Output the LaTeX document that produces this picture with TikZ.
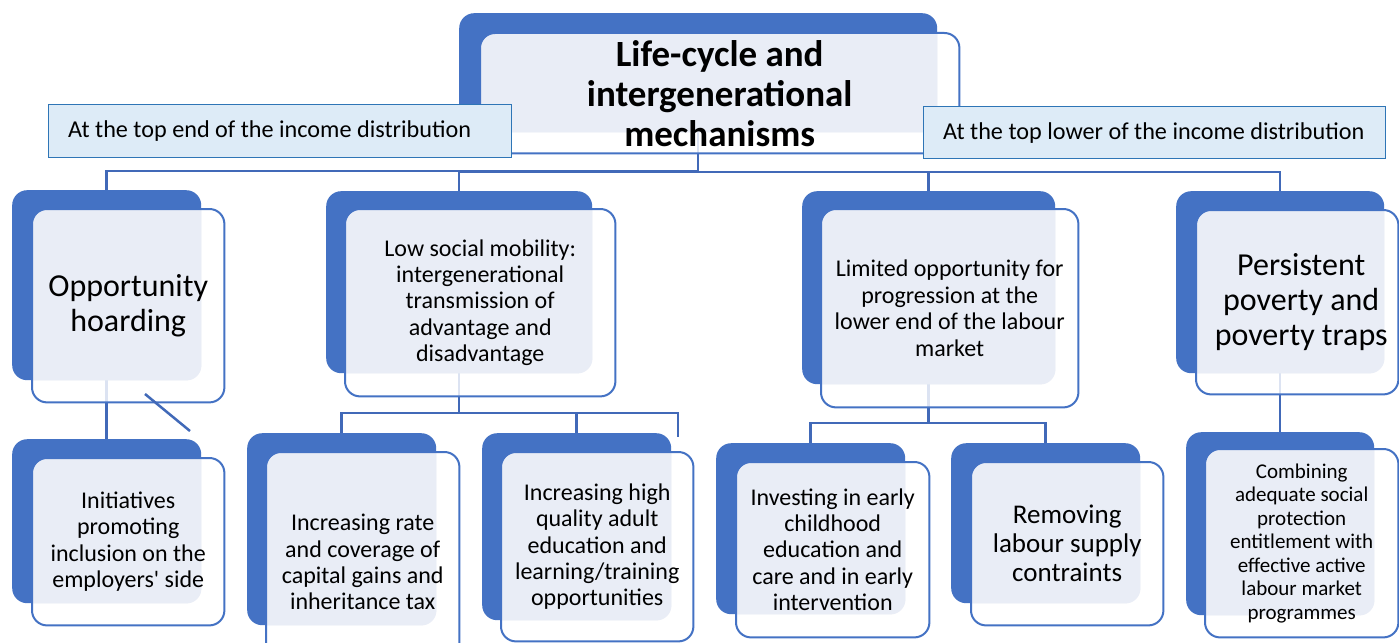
\documentclass[tikz,border=0pt]{standalone}
\usepackage{fontspec}
\setmainfont{Carlito}
\usetikzlibrary{calc}
\pgfdeclarelayer{bottom}
\pgfdeclarelayer{background}
\pgfsetlayers{bottom,background,main}
\definecolor{cardblue}{HTML}{4472C4}
\definecolor{lightfill}{HTML}{E9EDF6}
\definecolor{connblue}{HTML}{4169B8}
\definecolor{labfill}{HTML}{DDEBF7}
\definecolor{labline}{HTML}{2E75B6}
\tikzset{
 backbox/.style={rectangle, rounded corners=15pt, fill=cardblue, draw=none, anchor=north west, inner sep=0pt},
 frontbox/.style={rectangle, rounded corners=15pt, fill=white, fill opacity=0.82, draw=none, anchor=north west, inner sep=0pt},
 cardline/.style={draw=cardblue, line width=2pt, rounded corners=15pt},
 conn/.style={draw=connblue, line width=2.5pt},
 labelbox/.style={rectangle, fill=labfill, draw=labline, line width=1.3pt, anchor=north west, inner sep=0pt},
 labeltext/.style={anchor=west, inner sep=0pt, font=\fontsize{24.2}{28}\selectfont},
 cardtext/.style={align=center, inner sep=0pt, font=\fontsize{24}{26.4}\selectfont},
}
\newcommand\mkcard[9]{%
  \node[backbox, minimum width=#3pt, minimum height=#4pt] (#1b) at (#2) {};
  \node[frontbox, minimum width=#6pt, minimum height=#7pt] (#1) at (#5) {};
  \begin{scope}
    \clip[rounded corners=15pt] (#1.north west) rectangle (#1.south east);
    \fill[lightfill, rounded corners=15pt] (#1b.north west) rectangle (#1b.south east);
  \end{scope}
  \draw[cardline] (#1.north west) rectangle (#1.south east);
  \node[cardtext, #8] (#1t) at (#1.center) {#9};
}
\begin{document}
\begin{tikzpicture}[x=1pt, y=-1pt]
\useasboundingbox (0,0) rectangle (1399,642);
\begin{pgfonlayer}{bottom}
\fill[white] (0,0) rectangle (1399,642);
\end{pgfonlayer}

% title
\mkcard{ttl}{459,13}{478}{119}{480,33}{479}{120}{font=\bfseries\fontsize{37}{40}\selectfont}{Life-cycle and\\intergenerational\\mechanisms}

% label boxes
\node[labelbox, minimum width=463pt, minimum height=53pt] (labL) at (48,104) {};
\node[labeltext] (labLt) at ($(labL.west)+(20,0)$) {At the top end of the income distribution};
\node[labelbox, minimum width=462pt, minimum height=52pt] (labR) at (923,106) {};
\node[labeltext] (labRt) at ($(labR.west)+(20,0)$) {At the top lower of the income distribution};

% second row
\mkcard{c1}{12,190}{189}{190}{32,209}{192}{193}{font=\fontsize{32}{35}\selectfont}{Opportunity\\hoarding}
\mkcard{c2}{326,191}{266}{182}{345,209}{270}{187}{}{Low social mobility:\\intergenerational\\transmission of\\advantage and\\disadvantage}
\mkcard{c3}{802,191}{253}{193}{821,209}{257}{198}{}{Limited opportunity for\\progression at the\\lower end of the labour\\market}
\mkcard{c4}{1176,191}{208}{182}{1196,210}{202}{184}{font=\fontsize{32}{35}\selectfont, xshift=4pt}{Persistent\\poverty and\\poverty traps}

% third row
\mkcard{d1}{12,439}{189}{164}{32,458}{192}{167}{}{Initiatives\\promoting\\inclusion on the\\employers\textquotesingle\ side}
\mkcard{k1}{247,433}{189}{192}{266,452}{193}{220}{}{Increasing rate\\and coverage of\\capital gains and\\inheritance tax}
\mkcard{k2}{482,433}{189}{187}{501,452}{192}{189}{}{Increasing high\\quality adult\\education and\\learning/training\\opportunities}
\mkcard{m1}{716,443}{189}{171}{736,462}{193}{175}{}{Investing in early\\childhood\\education and\\care and in early\\intervention}
\mkcard{m2}{951,443}{189}{160}{971,462}{192}{163}{font=\fontsize{27}{29}\selectfont}{Removing\\labour supply\\contraints}
\mkcard{p1}{1186,432}{188}{183}{1205,449}{193}{188}{font=\fontsize{21}{23.5}\selectfont}{Combining\\adequate social\\protection\\entitlement with\\effective active\\labour market\\programmes}

\coordinate (strayend) at (678,437);
\coordinate (diagA) at (145,394);
\coordinate (diagB) at (190,431);

\begin{pgfonlayer}{background}
\draw[conn] (ttlb.south) |- ($(c1b.north)+(0,-19)$) -- (c1b.north);
\draw[conn] (ttlb.south) |- ($(c2b.north)+(0,-19)$) -- (c2b.north);
\draw[conn] (ttlb.south) |- ($(c3b.north)+(0,-19)$) -- (c3b.north);
\draw[conn] (ttlb.south) |- ($(c4b.north)+(0,-19)$) -- (c4b.north);
\draw[conn] (c1b.south) -- (d1b.north);
\draw[conn] (c2b.south) |- ($(k1b.north)+(0,-20)$) -- (k1b.north);
\draw[conn] (c2b.south) |- ($(k2b.north)+(0,-20)$) -- (k2b.north);
\draw[conn] (c2b.south) |- ($(strayend)+(0,-24)$) -- (strayend);
\draw[conn] (c3b.south) |- ($(m1b.north)+(0,-20)$) -- (m1b.north);
\draw[conn] (c3b.south) |- ($(m2b.north)+(0,-20)$) -- (m2b.north);
\draw[conn] (c4b.south) -- (p1b.north);
\end{pgfonlayer}
\draw[conn] (diagA) -- (diagB);
\end{tikzpicture}
\end{document}
